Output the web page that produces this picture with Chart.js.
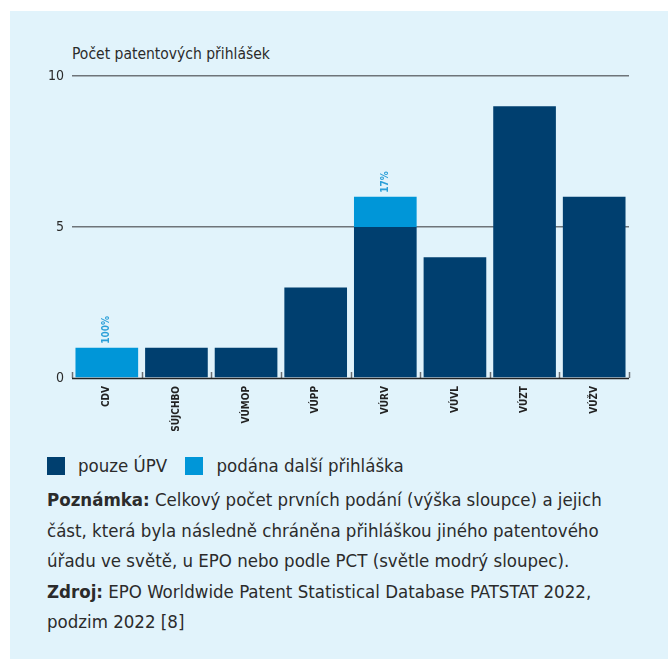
<!DOCTYPE html>
<html>
<head>
<meta charset="utf-8">
<script src="https://cdn.jsdelivr.net/npm/chart.js@4/dist/chart.umd.min.js"></script>
<style>
  html, body { margin: 0; padding: 0; background: #fff; }
  #panel {
    position: absolute; left: 10px; top: 11px; width: 658px; height: 648px;
    background: #e1f3fb;
    font-family: "DejaVu Sans Condensed", Roboto, sans-serif; color: #2b2b2b;
  }
  #ytitle { position: absolute; left: 62px; top: 34px; font-size: 15.5px; }
  #wrap { position: absolute; left: 0; top: 29px; width: 640px; height: 400px; }
  #legend { position: absolute; left: 37px; top: 444px; font-size: 18.5px; white-space: nowrap; }
  #legend span.box { display: inline-block; width: 18px; height: 18px; vertical-align: -3px; margin-right: 13px; }
  #legend span.item { margin-right: 13px; }
  #note { position: absolute; left: 37px; top: 474px; width: 630px; font-size: 18.5px; line-height: 30.6px; white-space: nowrap; }
</style>
</head>
<body>
<div id="panel">
  <div id="ytitle">Počet patentových přihlášek</div>
  <div id="wrap"><canvas id="chart"></canvas></div>
  <div id="legend">
    <span class="item"><span class="box" style="background:#003f6f"></span>pouze ÚPV</span>
    <span class="item"><span class="box" style="background:#0096d8"></span>podána další přihláška</span>
  </div>
  <div id="note">
    <b>Poznámka:</b> Celkový počet prvních podání (výška sloupce) a jejich<br>
    část, která byla následně chráněna přihláškou jiného patentového<br>
    úřadu ve světě, u EPO nebo podle PCT (světle modrý sloupec).<br>
    <b>Zdroj:</b> EPO Worldwide Patent Statistical Database PATSTAT 2022,<br>
    podzim 2022 [8]
  </div>
</div>
<script>
const categories = ["CDV", "SÚJCHBO", "VÚMOP", "VÚPP", "VÚRV", "VÚVL", "VÚZT", "VÚŽV"];
const onlyUpv = [0, 1, 1, 3, 5, 4, 9, 6];
const furtherFiled = [1, 0, 0, 0, 1, 0, 0, 0];
const shareLabels = ["100%", "", "", "", "17%", "", "", ""];
const yTicks = [0, 5, 10];

// short upward ticks between categories + rotated share labels
const extras = {
  id: 'extras',
  afterDatasetsDraw(chart) {
    const ctx = chart.ctx;
    const x = chart.scales.x;
    const bottom = chart.chartArea.bottom;
    const step = x.getPixelForValue(1) - x.getPixelForValue(0);
    ctx.save();
    ctx.strokeStyle = '#6a6f74';
    ctx.lineWidth = 1.5;
    for (let i = 0; i <= categories.length; i++) {
      const px = Math.round(x.getPixelForValue(i) - step / 2) + 0.5;
      ctx.beginPath();
      ctx.moveTo(px, bottom - 6);
      ctx.lineTo(px, bottom);
      ctx.stroke();
    }
    ctx.strokeStyle = '#222';
    ctx.beginPath();
    ctx.moveTo(chart.chartArea.left, bottom + 0.5);
    ctx.lineTo(chart.chartArea.right, bottom + 0.5);
    ctx.stroke();

    const meta = chart.getDatasetMeta(1);
    ctx.fillStyle = '#2a9fd8';
    ctx.font = 'bold 10px "DejaVu Sans Condensed"';
    ctx.textAlign = 'left';
    ctx.textBaseline = 'middle';
    meta.data.forEach((bar, i) => {
      if (!shareLabels[i]) return;
      ctx.save();
      ctx.translate(bar.x, bar.y - 4);
      ctx.rotate(-Math.PI / 2);
      ctx.fillText(shareLabels[i], 0, 0);
      ctx.restore();
    });
    ctx.restore();
  }
};

new Chart(document.getElementById('chart'), {
  type: 'bar',
  data: {
    labels: categories,
    datasets: [
      { label: 'pouze ÚPV', data: onlyUpv, backgroundColor: '#003f6f' },
      { label: 'podána další přihláška', data: furtherFiled, backgroundColor: '#0096d8' }
    ]
  },
  options: {
    responsive: true,
    maintainAspectRatio: false,
    animation: false,
    layout: { padding: { top: 36, right: 21, bottom: 2, left: 0 } },
    plugins: { legend: { display: false }, tooltip: { enabled: false } },
    datasets: { bar: { barPercentage: 0.9, categoryPercentage: 1.0 } },
    scales: {
      x: {
        stacked: true,
        grid: { display: false },
        border: { display: false },
        ticks: {
          color: '#222', font: { family: '"DejaVu Sans Condensed"', size: 10, weight: 'bold' },
          minRotation: 90, maxRotation: 90, padding: 0, autoSkip: false
        },
        afterFit(scale) { scale.height = 60; }
      },
      y: {
        stacked: true,
        min: 0, max: 10,
        afterBuildTicks(scale) { scale.ticks = yTicks.map(v => ({ value: v })); },
        grid: {
          color: ctx => ctx.tick.value === 0 ? 'rgba(0,0,0,0)' : '#6e7479',
          lineWidth: 1.5, drawTicks: false
        },
        border: { display: false },
        ticks: { color: '#2b2b2b', font: { family: '"DejaVu Sans Condensed"', size: 14 }, padding: 8 },
        afterFit(scale) { scale.width = 62; }
      }
    }
  },
  plugins: [extras]
});
</script>
</body>
</html>
